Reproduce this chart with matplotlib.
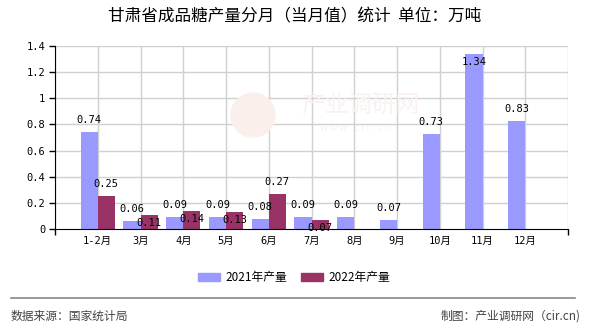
import numpy as np
import matplotlib
matplotlib.use("Agg")
import matplotlib.pyplot as plt
from matplotlib.patches import Ellipse, Rectangle
from matplotlib.lines import Line2D

plt.rcParams['font.family'] = ['Noto Sans CJK SC', 'DejaVu Sans']

title = "甘肃省成品糖产量分月（当月值）统计  单位：万吨"
months = ["1-2月", "3月", "4月", "5月", "6月", "7月", "8月", "9月", "10月", "11月", "12月"]
y2021 = [0.74, 0.06, 0.09, 0.09, 0.08, 0.09, 0.09, 0.07, 0.73, 1.34, 0.83]
y2022 = [0.25, 0.11, 0.14, 0.13, 0.27, 0.07, None, None, None, None, None]
series_names = ["2021年产量", "2022年产量"]
yticks = [0, 0.2, 0.4, 0.6, 0.8, 1, 1.2, 1.4]
source_text = "数据来源：国家统计局"
credit_text = "制图：产业调研网（cir.cn)"

c2021 = "#9999FF"
c2022 = "#993366"
mono = ['DejaVu Sans Mono', 'Noto Sans CJK SC']

fig = plt.figure(figsize=(5.9, 3.3), dpi=100)
W, H = 590, 330
ax = fig.add_axes([55 / W, 1 - 229 / H, (568 - 55) / W, (229 - 46) / H])

x = np.arange(len(months))
bw = 0.4
v21 = np.array(y2021, dtype=float)
v22 = np.array([np.nan if v is None else v for v in y2022], dtype=float)

ax.bar(x - bw / 2, v21, width=bw, color=c2021, zorder=3, linewidth=0)
ax.bar(x + bw / 2, v22, width=bw, color=c2022, zorder=3, linewidth=0)

# value labels; crowded ones are tucked just under the bar top
tucked = {(0, 9), (1, 1), (1, 2), (1, 3), (1, 5)}
for si, (vals, dx) in enumerate([(v21, -bw / 2), (v22, bw / 2)]):
    for i, v in enumerate(vals):
        if np.isnan(v):
            continue
        off = -5.8 if (si, i) in tucked else 8.6
        ax.annotate(f"{v:.2f}", (i + dx, v), xytext=(0, off), textcoords="offset points",
                    ha="center", va="center", fontsize=7.5, family=mono, zorder=5)

ax.set_xlim(-1, 11)
ax.set_ylim(0, 1.4)
ax.set_yticks(yticks)
ax.set_yticklabels([f"{t:g}" for t in yticks], family=mono, fontsize=7.5)
ax.set_xticks(x)
ax.set_xticklabels(months, family=mono, fontsize=7.5)
ax.tick_params(axis="x", length=0, pad=5)
ax.tick_params(axis="y", length=4, width=1, pad=3)
ax.set_xticks([-1, 11], minor=True)
ax.tick_params(axis="x", which="minor", length=4, width=1)

# grid lines at every category and value tick
for xi in range(-1, 12):
    ax.axvline(xi, color="#d0d0d0", lw=1, zorder=1)
for t in yticks[1:]:
    ax.axhline(t, color="#d0d0d0", lw=1, zorder=1)

for s in ["top", "right"]:
    ax.spines[s].set_visible(False)
ax.spines["left"].set_color("black")
ax.spines["bottom"].set_color("black")
ax.spines["left"].set_zorder(4)
ax.spines["bottom"].set_zorder(4)

# faint watermark
fig.patches.append(Ellipse((253 / W, 1 - 115 / H), 44 / W, 44 / H, transform=fig.transFigure,
                           color="#fbefec", zorder=0))
fig.text(360 / W, 1 - 105 / H, "产业调研网", fontsize=17, color="#fbf1f1", ha="center",
         va="center", zorder=0)
fig.text(355 / W, 1 - 128 / H, "w w w . c i r . c n", fontsize=7, color="#f7f2f2",
         ha="center", va="center", zorder=0)

fig.text(0.5, 1 - 17 / H, title, ha="center", va="center", fontsize=12)

# legend
ly = 1 - 277 / H
for (x0, name, col) in [(198, series_names[0], c2021), (301, series_names[1], c2022)]:
    fig.patches.append(Rectangle((x0 / W, ly - 4 / H), 22 / W, 8 / H,
                                 transform=fig.transFigure, color=col))
    fig.text((x0 + 27) / W, ly, name, ha="left", va="center", fontsize=8.5)

fig.lines.append(Line2D([11 / W, 575 / W], [1 - 298 / H, 1 - 298 / H],
                        transform=fig.transFigure, color="#888888", lw=1.2))
fig.text(11 / W, 1 - 316 / H, source_text, ha="left", va="center", fontsize=8.5, color="#444444")
fig.text(581 / W, 1 - 316 / H, credit_text, ha="right", va="center", fontsize=8.5, color="#444444")

fig.savefig("out.png", dpi=100)
